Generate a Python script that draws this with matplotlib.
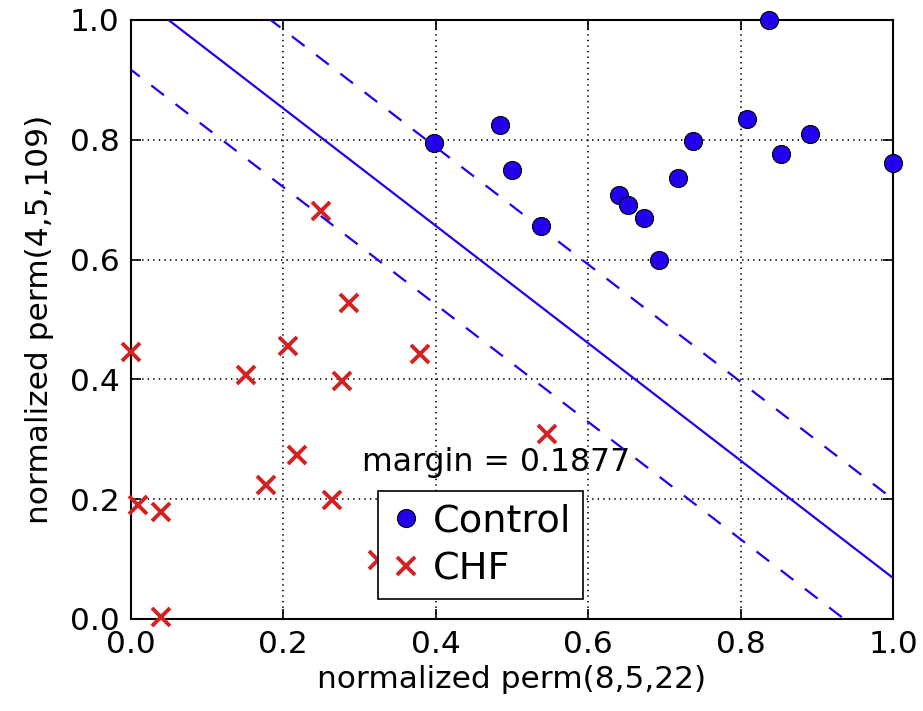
"""
SVM separation of Control vs CHF on two normalized permutation features.
"""

import numpy as np
import matplotlib
matplotlib.use("Agg")
import matplotlib.pyplot as plt

# Control group (blue circles)
control_x = [0.837, 0.485, 0.398, 0.500, 0.538, 0.641, 0.653, 0.674, 0.693,
             0.718, 0.738, 0.809, 0.853, 0.891, 1.000]
control_y = [1.000, 0.824, 0.794, 0.749, 0.656, 0.707, 0.691, 0.670, 0.599,
             0.736, 0.798, 0.835, 0.776, 0.810, 0.761]

# CHF group (red crosses)
chf_x = [0.000, 0.151, 0.207, 0.277, 0.379, 0.218, 0.177, 0.264, 0.009,
         0.040, 0.040, 0.324, 0.249, 0.286, 0.546]
chf_y = [0.445, 0.408, 0.456, 0.398, 0.443, 0.274, 0.224, 0.198, 0.191,
         0.179, 0.004, 0.099, 0.681, 0.527, 0.308]

# separating hyperplane w.x + b = 0, margins at +-1
w = [7.458, 7.610]
b = -7.980
margin = 0.1877

xticks = [0.0, 0.2, 0.4, 0.6, 0.8, 1.0]
yticks = [0.0, 0.2, 0.4, 0.6, 0.8, 1.0]

BLUE = "#2200ee"
RED = "#d42222"

plt.rcParams["lines.scale_dashes"] = False


def line_y(xs, offset):
    return (-b + offset - w[0] * xs) / w[1]


fig = plt.figure(figsize=(9.23, 7.11), dpi=100)
ax = fig.add_axes([0.1416, 0.1294, 0.8259, 0.8425])

ax.plot(control_x, control_y, "o", color=BLUE, markeredgecolor="black",
        markeredgewidth=0.8, markersize=13, label="Control", clip_on=False,
        zorder=3)
ax.plot(chf_x, chf_y, "x", color=RED, markeredgewidth=2.8, markersize=12.5,
        label="CHF", clip_on=False, zorder=3)

xs = np.linspace(-0.1, 1.1, 50)
ax.plot(xs, line_y(xs, 0), "-", color=BLUE, linewidth=1.6, zorder=4)
ax.plot(xs, line_y(xs, 1), color=BLUE, linewidth=1.6, dashes=(11.5, 10.5),
        zorder=4)
ax.plot(xs, line_y(xs, -1), color=BLUE, linewidth=1.6, dashes=(11.5, 10.5),
        zorder=4)

ax.text(0.303, 0.247, "margin = %.4f" % margin, fontsize=22.7)

ax.set_xlim(0, 1)
ax.set_ylim(0, 1)
ax.set_xticks(xticks)
ax.set_yticks(yticks)
ax.set_xticklabels(["%.1f" % t for t in xticks])
ax.set_yticklabels(["%.1f" % t for t in yticks])
ax.tick_params(direction="in", length=7, width=1.2, labelsize=22.5, pad=8,
               top=True, right=True)
ax.grid(True, linestyle=(0, (1, 3)), color="black", linewidth=1.2)
for s in ax.spines.values():
    s.set_linewidth(1.5)

ax.set_xlabel("normalized perm(8,5,22)", fontsize=22.5, labelpad=4)
ax.set_ylabel("normalized perm(4,5,109)", fontsize=22.5, labelpad=11)

leg = ax.legend(loc="lower left", bbox_to_anchor=(0.325, 0.033),
                borderaxespad=0, fontsize=27.5, fancybox=False, framealpha=1,
                edgecolor="black", handletextpad=0.3, handlelength=0.8,
                borderpad=0.32, labelspacing=0.3, numpoints=1)
leg.get_frame().set_linewidth(1.2)

fig.savefig("out.png", dpi=100)
